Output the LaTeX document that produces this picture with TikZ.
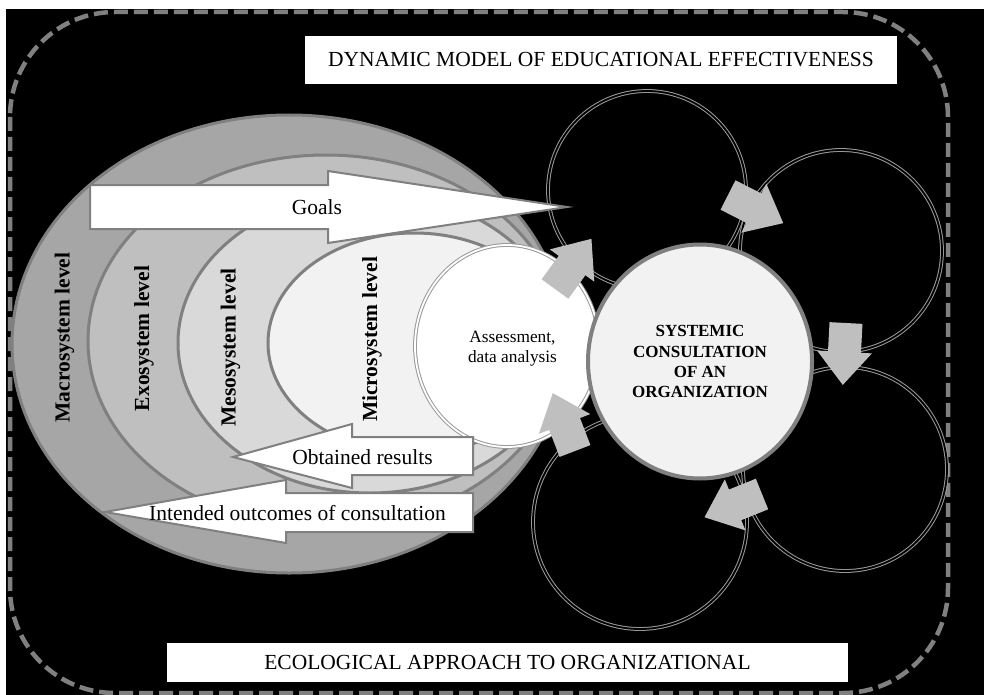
\documentclass[tikz,border=0pt]{standalone}
\usepackage{fontspec}
\setmainfont{Liberation Serif}
\definecolor{edgegray}{gray}{0.5}
\definecolor{dashgray}{gray}{0.5}
\definecolor{macrofill}{gray}{0.65}
\definecolor{exofill}{gray}{0.75}
\definecolor{mesofill}{gray}{0.85}
\definecolor{microfill}{gray}{0.95}
\definecolor{arrowfill}{gray}{0.75}
\definecolor{ringgray}{gray}{0.6}
\definecolor{corefill}{gray}{0.95}
\begin{document}
\begin{tikzpicture}[x=1pt,y=-1pt,
  levelring/.style={draw=edgegray, line width=3pt},
  levellabel/.style={rotate=90, inner sep=0pt, font=\fontsize{21.5}{24}\selectfont\bfseries},
  flowarrow/.style={fill=white, draw=edgegray, line width=2pt, line join=miter},
  flowlabel/.style={inner sep=0pt, font=\fontsize{21.5}{24}\selectfont},
  ringcircle/.style={draw=ringgray, double=black, double distance=1.8pt, line width=1pt},
  titlebox/.style={fill=white, inner sep=0pt, font=\fontsize{21.5}{24}\selectfont},
  blockarr/.pic={\fill[arrowfill] (0,-16.5) -- (29,-16.5) -- (29,-27.5) -- (62,0)
      -- (29,27.5) -- (29,16.5) -- (0,16.5) -- cycle;}]
\useasboundingbox (0,0) rectangle (984,695);
% background
\fill[white] (0,0) rectangle (984,695);
\fill[black] (6,9) rectangle (984,695);
% dashed frame
\draw[dashgray, line width=4.5pt, dash pattern=on 14pt off 6pt, rounded corners=105pt]
  (10,12) rectangle (948,693);
% headings
\node[titlebox, minimum width=592pt, minimum height=48pt] (title) at (601,60)
  {DYNAMIC MODEL OF EDUCATIONAL EFFECTIVENESS};
\node[titlebox, minimum width=681pt, minimum height=39pt] (footer) at (507.5,662.5)
  {ECOLOGICAL APPROACH TO ORGANIZATIONAL};
% nested system levels
\draw[levelring, fill=macrofill] (289,344) ellipse [x radius=277, y radius=229];
\draw[levelring, fill=exofill]   (326,341) ellipse [x radius=238, y radius=186];
\draw[levelring, fill=mesofill]  (370,343) ellipse [x radius=192, y radius=150];
\draw[levelring, fill=microfill] (414,343) ellipse [x radius=146, y radius=110];
\node[levellabel] (macro) at (64.5,337.5) {Macrosystem level};
\node[levellabel] (exo)   at (144,338.5)  {Exosystem level};
\node[levellabel] (meso)  at (230.5,347.5) {Mesosystem level};
\node[levellabel] (micro) at (372,339.5)  {Microsystem level};
% consultation cycle rings
\draw[ringcircle] (647,190) circle [radius=99];
\draw[ringcircle] (841,251) circle [radius=101];
\draw[ringcircle] (845,469) circle [radius=102];
\draw[ringcircle] (640,522) circle [radius=107];
% assessment
\draw[draw=ringgray, double=white, double distance=1.8pt, line width=1pt, fill=white]
  (507,346) ellipse [x radius=92, y radius=101];
\node[inner sep=0pt, align=center, font=\fontsize{17.3}{19.5}\selectfont] (assess)
  at (512.5,348.7) {Assessment,\\data analysis};
% flow arrows
\draw[flowarrow] (90,185) -- (328,185) -- (328,171) -- (567,207) -- (328,243)
  -- (328,229) -- (90,229) -- cycle;
\node[flowlabel] (goals) at (317,207.5) {Goals};
\draw[flowarrow] (473,437) -- (352,437) -- (352,424) -- (233,457) -- (352,488)
  -- (352,475) -- (473,475) -- cycle;
\node[flowlabel] (results) at (362.5,457) {Obtained results};
\draw[flowarrow] (473,493) -- (286,493) -- (286,480) -- (105,512) -- (286,543)
  -- (286,532) -- (473,532) -- cycle;
\node[flowlabel] (outcomes) at (297.5,513) {Intended outcomes of consultation};
% central consultation
\draw[draw=edgegray, line width=4pt, fill=corefill] (700,361.5) ellipse [x radius=112, y radius=117];
\node[inner sep=0pt, align=center, font=\fontsize{17}{20.3}\selectfont\bfseries] (core)
  at (700,361.7) {SYSTEMIC\\CONSULTATION\\OF AN\\ORGANIZATION};
% cycle arrows
\pic[rotate=-27] at (728,195) {blockarr};
\pic[rotate=-93] at (846,323) {blockarr};
\pic[rotate=202] at (762,494) {blockarr};
\pic[rotate=111] at (575,451) {blockarr};
\pic[rotate=54]  at (555,289) {blockarr};
\end{tikzpicture}
\end{document}
